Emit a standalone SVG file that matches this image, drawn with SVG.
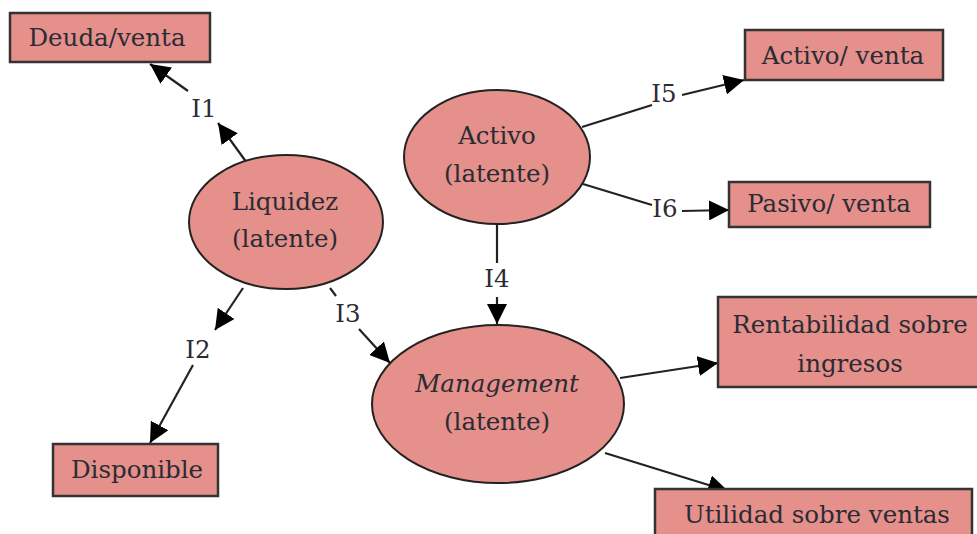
<svg xmlns="http://www.w3.org/2000/svg" width="977" height="534" viewBox="0 0 977 534">
<style>
.box{fill:#E5908A;stroke:#333;stroke-width:2.5}
.ell{fill:#E5908A;stroke:#222;stroke-width:2}
.t{font-family:"DejaVu Serif","Liberation Serif",serif;font-size:24.5px;fill:#2b2b35;text-anchor:middle}
.it{font-style:italic}
.e{stroke:#222;stroke-width:2.2;fill:none}
.a{marker-end:url(#ah)}
</style>
<defs>
<marker id="ah" markerUnits="userSpaceOnUse" markerWidth="22" markerHeight="20" refX="20" refY="10" orient="auto">
<path d="M0,0 L20,10 L0,20 Z" fill="#000"/>
</marker>
</defs>
<rect width="977" height="534" fill="#fff"/>
<g id="connectors">
<line class="e a" x1="247" y1="163" x2="218" y2="123"/>
<line class="e a" x1="188" y1="91" x2="150" y2="64"/>
<line class="e a" x1="243" y1="288" x2="215" y2="330"/>
<line class="e a" x1="193" y1="365" x2="150" y2="443"/>
<line class="e" x1="330" y1="288" x2="336" y2="296"/>
<line class="e a" x1="359" y1="329" x2="390" y2="363"/>
<line class="e" x1="497" y1="224" x2="497" y2="263"/>
<line class="e a" x1="497" y1="297" x2="497" y2="324"/>
<line class="e" x1="582" y1="127" x2="652" y2="105"/>
<line class="e a" x1="682" y1="95" x2="744" y2="80"/>
<line class="e" x1="583" y1="184" x2="652" y2="205"/>
<line class="e a" x1="682" y1="211" x2="729" y2="210"/>
<line class="e a" x1="620" y1="378" x2="718" y2="363"/>
<line class="e a" x1="605" y1="453" x2="728" y2="491"/>
<text class="t" x="204" y="117">I1</text>
<text class="t" x="198" y="358">I2</text>
<text class="t" x="348" y="322">I3</text>
<text class="t" x="497" y="287">I4</text>
<text class="t" x="664" y="102">I5</text>
<text class="t" x="665" y="217">I6</text>
</g>
<g id="deuda">
<rect class="box" x="10" y="13" width="200" height="49"/>
<text class="t" x="107" y="46">Deuda/venta</text>
</g>
<g id="liquidez">
<ellipse class="ell" cx="286" cy="222" rx="97" ry="67"/>
<text class="t" x="285" y="210">Liquidez</text>
<text class="t" x="285" y="247">(latente)</text>
</g>
<g id="activo">
<ellipse class="ell" cx="497" cy="157" rx="93" ry="67"/>
<text class="t" x="497" y="144">Activo</text>
<text class="t" x="497" y="182">(latente)</text>
</g>
<g id="management">
<ellipse class="ell" cx="498" cy="404" rx="126" ry="79"/>
<text class="t it" x="497" y="392">Management</text>
<text class="t" x="497" y="430">(latente)</text>
</g>
<g id="activo-venta">
<rect class="box" x="745" y="30" width="198" height="50"/>
<text class="t" x="843" y="64">Activo/ venta</text>
</g>
<g id="pasivo-venta">
<rect class="box" x="729" y="182" width="201" height="45"/>
<text class="t" x="829" y="212">Pasivo/ venta</text>
</g>
<g id="disponible">
<rect class="box" x="53" y="444" width="165" height="52"/>
<text class="t" x="137" y="478">Disponible</text>
</g>
<g id="rentabilidad">
<rect class="box" x="718" y="297" width="275" height="90"/>
<text class="t" x="850" y="333">Rentabilidad sobre</text>
<text class="t" x="850" y="372">ingresos</text>
</g>
<g id="utilidad">
<rect class="box" x="655" y="489" width="317" height="60"/>
<text class="t" x="817" y="523">Utilidad sobre ventas</text>
</g>
</svg>
